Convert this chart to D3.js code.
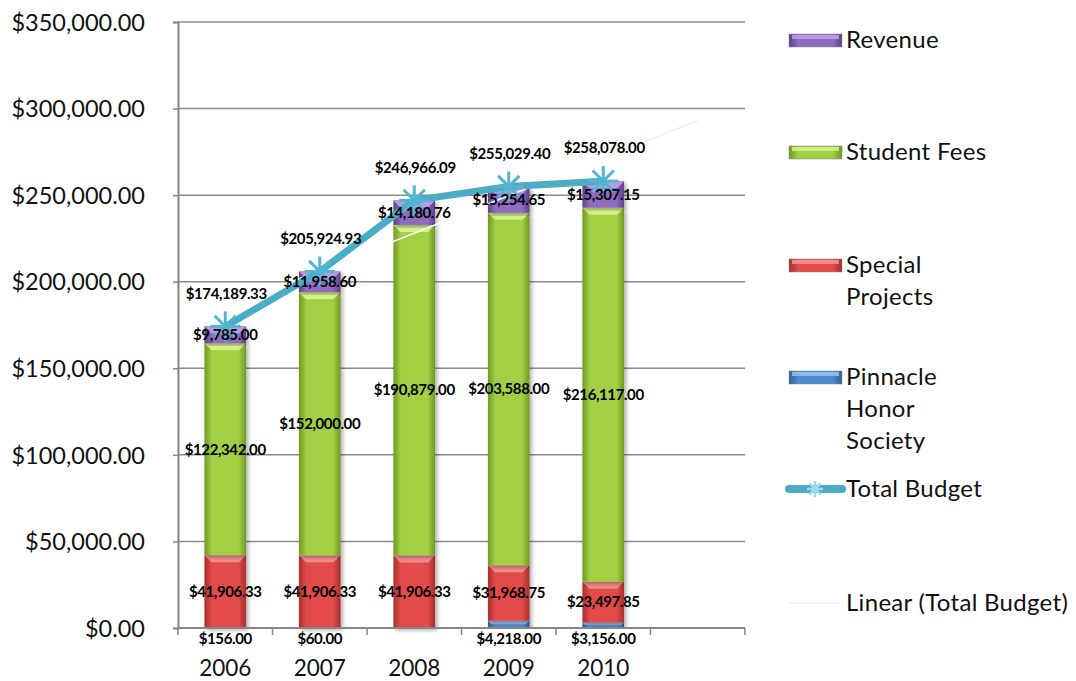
<!DOCTYPE html>
<html>
<head>
<meta charset="utf-8">
<script src="https://cdn.jsdelivr.net/npm/d3@7"></script>
<style>
  body { margin: 0; background: #fff; }
  text { font-family: Lato, "Open Sans", sans-serif; }
</style>
</head>
<body>
<svg id="budget" width="1076" height="681"></svg>
<script>
// data
var years = ["2006", "2007", "2008", "2009", "2010"];
var pinnacle = [156, 60, 0, 4218, 3156];
var special = [41906.33, 41906.33, 41906.33, 31968.75, 23497.85];
var fees = [122342, 152000, 190879, 203588, 216117];
var revenue = [9785, 11958.60, 14180.76, 15254.65, 15307.15];
var totals = [174189.33, 205924.93, 246966.09, 255029.40, 258078.00];
var yTicks = [0, 50000, 100000, 150000, 200000, 250000, 300000, 350000];

var keys = ["pinnacle", "special", "fees", "revenue"];
var shades = {
  revenue:  {edge: "#5e3f86", mid: "#8f6cc0", top: "#c0a6ec"},
  fees:     {edge: "#6f9a22", mid: "#a3cf45", top: "#dcf590"},
  special:  {edge: "#a82e2b", mid: "#e24c49", top: "#f59a98"},
  pinnacle: {edge: "#2f5f9c", mid: "#4e8ad0", top: "#9cc4f0"}
};

var rows = years.map(function(y, i) {
  return {year: y, pinnacle: pinnacle[i], special: special[i], fees: fees[i], revenue: revenue[i], total: totals[i]};
});

var svg = d3.select("svg#budget");
var money = d3.format("$,.2f");

// 6 slots on the axis, the last one is empty
var x = d3.scaleBand()
  .domain(years.concat(["_"]))
  .range([178, 745]);
var y = d3.scaleLinear()
  .domain([0, 350000])
  .range([628, 22]);
var barW = x.bandwidth() * 0.44;
var cx = function(yr) { return x(yr) + x.bandwidth() / 2; };

// gradients for the bevelled bars
var defs = svg.append("defs");
keys.forEach(function(k) {
  var g = defs.append("linearGradient").attr("id", "g-" + k).attr("x1", 0).attr("x2", 1).attr("y1", 0).attr("y2", 0);
  g.append("stop").attr("offset", "0%").attr("stop-color", shades[k].edge);
  g.append("stop").attr("offset", "18%").attr("stop-color", shades[k].mid);
  g.append("stop").attr("offset", "82%").attr("stop-color", shades[k].mid);
  g.append("stop").attr("offset", "100%").attr("stop-color", shades[k].edge);
});
var sh = defs.append("filter").attr("id", "shadow").attr("x", "-20%").attr("y", "-5%").attr("width", "150%").attr("height", "115%");
sh.append("feDropShadow").attr("dx", 2).attr("dy", 2).attr("stdDeviation", 2).attr("flood-opacity", 0.35);

// gridlines
svg.append("g").selectAll("line")
  .data(yTicks.slice(1))
  .enter().append("line")
  .attr("x1", 178).attr("x2", 745)
  .attr("y1", d => y(d)).attr("y2", d => y(d))
  .attr("stroke", "#8c8c8c").attr("stroke-width", 1.5);

// y axis
var yAxis = svg.append("g")
  .attr("transform", translate(178, 0))
  .call(d3.axisLeft(y).tickValues(yTicks).tickFormat(money).tickSize(5).tickPadding(28));
yAxis.select(".domain").attr("stroke", "#868686").attr("stroke-width", 2);
yAxis.selectAll(".tick line").attr("stroke", "#868686").attr("stroke-width", 1.5);
yAxis.selectAll("text").attr("font-size", 23.5).attr("fill", "#111").attr("dy", "0.35em");

// stacked bars
var series = d3.stack().keys(keys)(rows);
var layer = svg.append("g").selectAll("g.layer")
  .data(series)
  .enter().append("g")
  .attr("class", "layer");

layer.each(function(s) {
  var k = s.key;
  var g = d3.select(this);
  var segs = g.selectAll("g.seg")
    .data(s.filter(d => d[1] - d[0] > 0))
    .enter().append("g").attr("class", "seg");
  segs.append("rect")
    .attr("x", d => cx(d.data.year) - barW / 2)
    .attr("y", d => y(d[1]))
    .attr("width", barW)
    .attr("height", d => y(d[0]) - y(d[1]))
    .attr("fill", "url(#g-" + k + ")")
    .attr("filter", "url(#shadow)");
  // top bevel
  segs.append("path")
    .attr("d", function(d) {
      var l = cx(d.data.year) - barW / 2, r = l + barW, t = y(d[1]);
      var h = Math.min(7, (y(d[0]) - y(d[1])) / 2), inset = Math.min(7, h);
      return "M" + l + "," + t + "L" + r + "," + t + "L" + (r - inset) + "," + (t + h) + "L" + (l + inset) + "," + (t + h) + "Z";
    })
    .attr("fill", shades[k].top).attr("opacity", 0.85);
});

// x axis
var xAxis = svg.append("g")
  .attr("transform", translate(0, 628));
xAxis.append("line").attr("x1", 178).attr("x2", 745).attr("stroke", "#868686").attr("stroke-width", 2);
xAxis.selectAll("line.tick")
  .data(x.domain().concat(["end"]))
  .enter().append("line")
  .attr("class", "tick")
  .attr("x1", d => d === "end" ? 745 : x(d)).attr("x2", d => d === "end" ? 745 : x(d))
  .attr("y1", 0).attr("y2", 7)
  .attr("stroke", "#868686").attr("stroke-width", 1.5);
xAxis.selectAll("text")
  .data(years)
  .enter().append("text")
  .attr("x", d => cx(d)).attr("y", 48)
  .attr("text-anchor", "middle").attr("font-size", 22.5).attr("fill", "#111")
  .text(d => d);

// linear trend of the total budget (least squares over the 5 points)
var mx = d3.mean(totals, (d, i) => i + 1), my = d3.mean(totals);
var slope = d3.sum(totals, (d, i) => (i + 1 - mx) * (d - my)) / d3.sum(totals, (d, i) => (i + 1 - mx) * (i + 1 - mx));
var icpt = my - slope * mx;
var slot = d3.scaleLinear().domain([1, 2]).range([cx(years[0]), cx(years[1])]);
svg.append("line")
  .attr("x1", slot(1)).attr("y1", y(icpt + slope))
  .attr("x2", slot(6)).attr("y2", y(icpt + slope * 6))
  .attr("stroke", "#fff").attr("stroke-width", 1.5);
svg.append("line")
  .attr("x1", slot(5)).attr("y1", y(icpt + slope * 5))
  .attr("x2", slot(6)).attr("y2", y(icpt + slope * 6))
  .attr("stroke", "#ececec").attr("stroke-width", 1.2);

// total budget line
var line = d3.line().x(d => cx(d.year)).y(d => y(d.total));
svg.append("path")
  .datum(rows)
  .attr("d", line)
  .attr("fill", "none").attr("stroke", "#4bacc6").attr("stroke-width", 7)
  .attr("stroke-linejoin", "round");

function star(g, px, py, r, col, w) {
  [0, 45, 90, 135].forEach(function(a) {
    var rad = a * Math.PI / 180;
    g.append("line")
      .attr("x1", px - r * Math.cos(rad)).attr("y1", py - r * Math.sin(rad))
      .attr("x2", px + r * Math.cos(rad)).attr("y2", py + r * Math.sin(rad))
      .attr("stroke", col || "#4bacc6").attr("stroke-width", w || 2.5);
  });
}
var marks = svg.append("g");
rows.forEach(d => star(marks, cx(d.year), y(d.total), 15, "#52b6d2", 3));

// data labels
var lab = svg.append("g").attr("font-size", 15).attr("font-weight", "bold").attr("fill", "#000")
  .attr("text-anchor", "middle").attr("letter-spacing", -0.4);
series.forEach(function(s) {
  s.forEach(function(d) {
    var v = d[1] - d[0];
    if (v <= 0) return;
    var py = s.key === "pinnacle" ? 628 + 11 : (y(d[0]) + y(d[1])) / 2;
    lab.append("text")
      .attr("x", cx(d.data.year)).attr("y", py).attr("dy", "0.35em")
      .text(money(v));
  });
});
rows.forEach(function(d) {
  lab.append("text")
    .attr("x", cx(d.year) + 1).attr("y", y(d.total) - 33).attr("dy", "0.35em")
    .text(money(d.total));
});

// legend
var legend = svg.append("g").attr("font-size", 24).attr("fill", "#111").attr("letter-spacing", 0.3);
var legendItems = [
  {key: "revenue", lines: ["Revenue"], y: 40},
  {key: "fees", lines: ["Student Fees"], y: 152},
  {key: "special", lines: ["Special", "Projects"], y: 265},
  {key: "pinnacle", lines: ["Pinnacle", "Honor", "Society"], y: 377},
  {key: "total", lines: ["Total Budget"], y: 489},
  {key: "trend", lines: ["Linear (Total Budget)"], y: 603}
];
legendItems.forEach(function(it) {
  if (shades[it.key]) {
    legend.append("rect").attr("x", 789).attr("y", it.y - 6).attr("width", 53).attr("height", 13)
      .attr("fill", "url(#g-" + it.key + ")").attr("stroke", "#888").attr("stroke-width", 0.5);
    legend.append("rect").attr("x", 792).attr("y", it.y - 5).attr("width", 47).attr("height", 4)
      .attr("fill", shades[it.key].top).attr("opacity", 0.8);
  } else if (it.key === "total") {
    legend.append("line").attr("x1", 789).attr("x2", 842).attr("y1", it.y).attr("y2", it.y)
      .attr("stroke", "#4bacc6").attr("stroke-width", 8).attr("stroke-linecap", "round");
    star(legend, 815, it.y, 8, "#9fdcec");
  } else {
    legend.append("line").attr("x1", 789).attr("x2", 842).attr("y1", it.y).attr("y2", it.y)
      .attr("stroke", "#f2f2f2").attr("stroke-width", 1.5);
  }
  var t = legend.append("text").attr("x", 846).attr("y", it.y);
  it.lines.forEach(function(s, i) {
    t.append("tspan").attr("x", 846).attr("dy", i === 0 ? "0.35em" : 32).text(s);
  });
});

/*
 * returns a translate string for the transform attribute
 */
function translate(x, y) {
  return 'translate(' + String(x) + ',' + String(y) + ')';
}
</script>
</body>
</html>
